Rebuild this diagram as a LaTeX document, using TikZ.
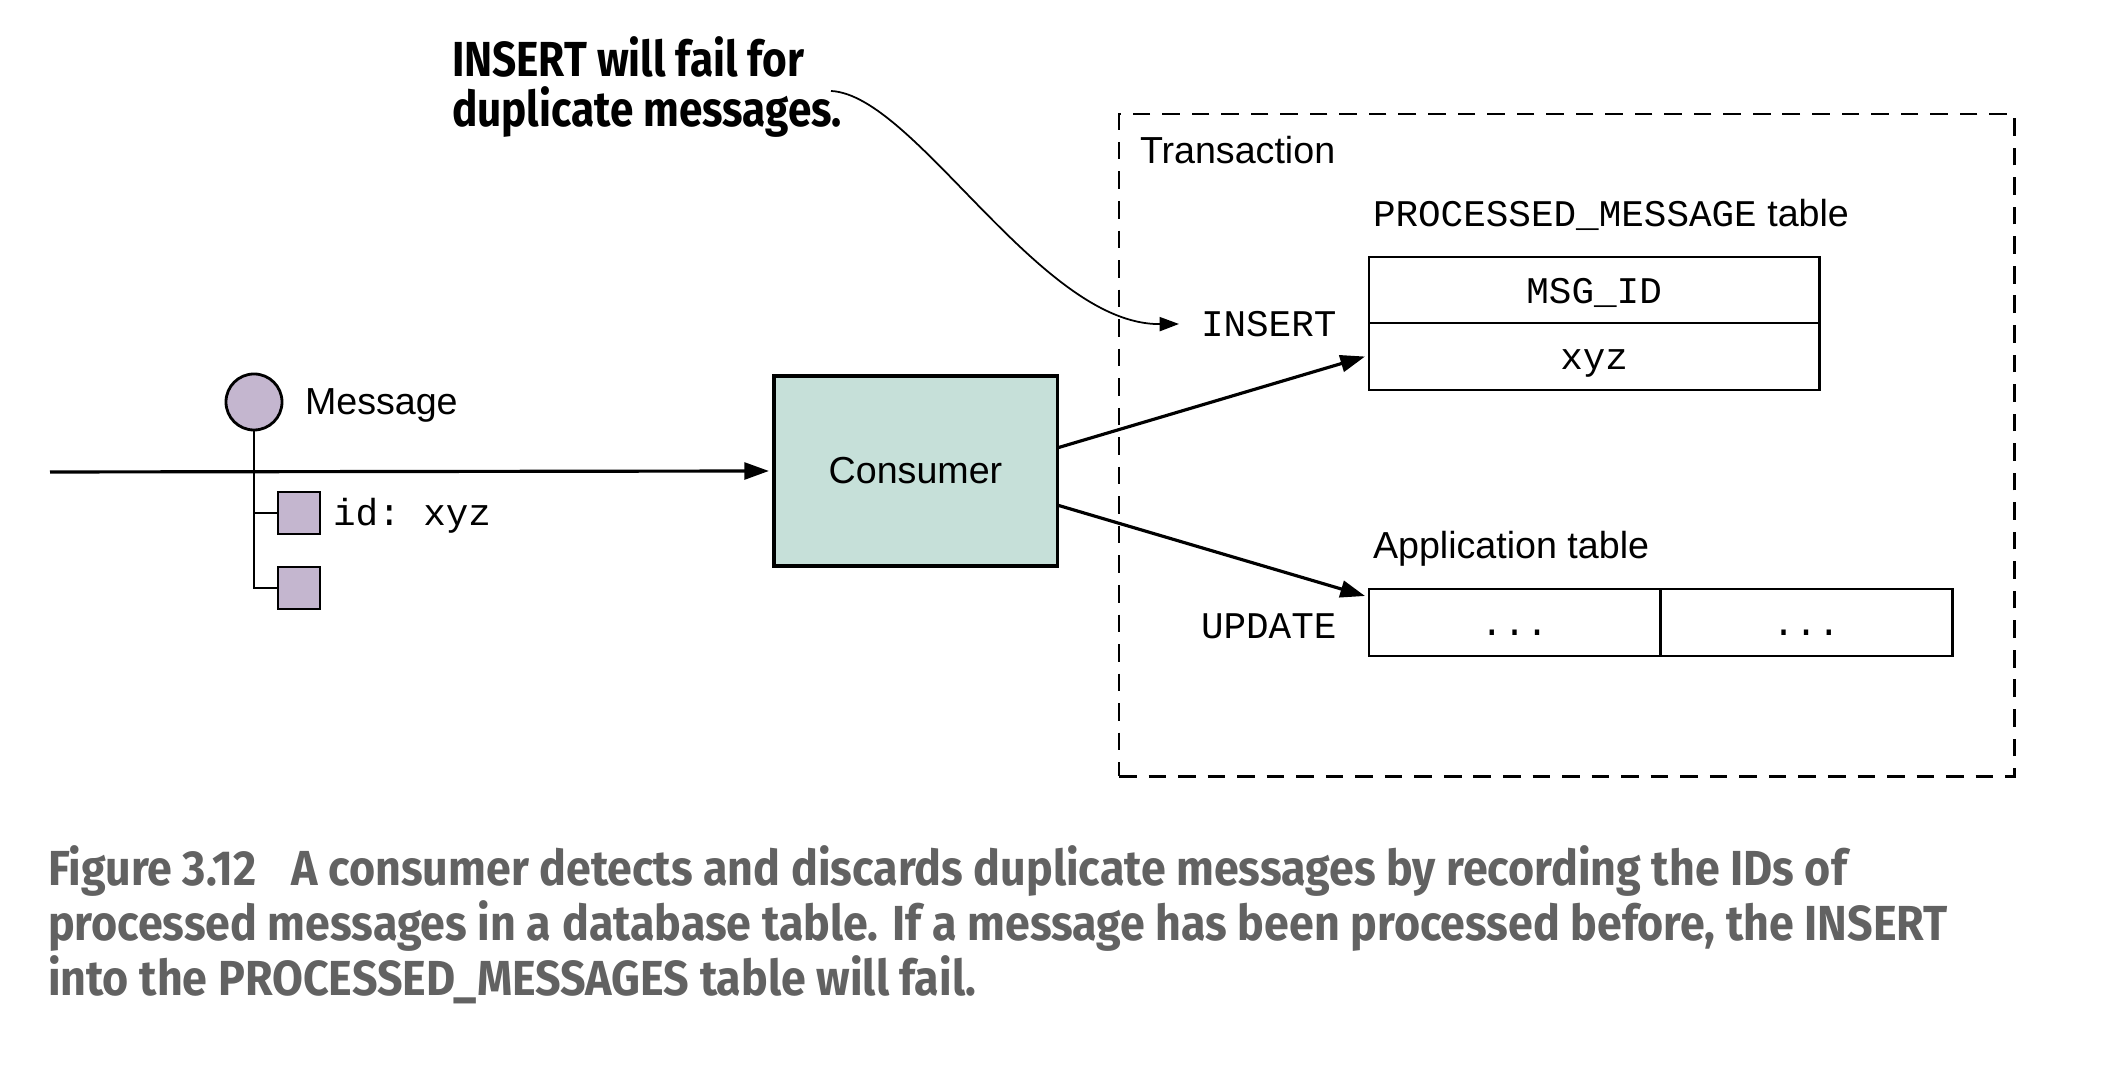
\documentclass[tikz,border=0pt]{standalone}
\usepackage{fontspec}
\setmainfont{Liberation Sans}
\setmonofont{Liberation Mono}
\newfontfamily\titlefont[FakeStretch=0.86]{Fira Sans}
\newfontfamily\capfont[FakeStretch=0.91]{Fira Sans}
\usetikzlibrary{arrows.meta}
\definecolor{msgfill}{RGB}{196,182,207}
\definecolor{consfill}{RGB}{198,224,217}
\definecolor{capgray}{RGB}{98,98,98}
\newcommand\basesize{\fontsize{10.7}{12.8}\selectfont}
\newcommand\titlesize{\titlefont\bfseries\fontsize{14}{16}\selectfont}
\newcommand\capsize{\capfont\bfseries\fontsize{14}{16}\selectfont}
\begin{document}
\begin{tikzpicture}[x=0.01cm,y=-0.01cm,
  every node/.style={inner sep=0pt, outer sep=0pt, font=\basesize},
  cell/.style={draw, line width=0.8pt, minimum height=0.66cm, text height=0.9em, text depth=0.14em, font=\basesize\ttfamily},
  mono/.style={font=\basesize\ttfamily},
  arr/.style={line width=0.9pt, -{Triangle[length=7pt,width=4.8pt]}},
  part/.style={draw, line width=0.8pt, fill=msgfill},
  dashbox/.style={draw, line width=0.8pt, dash pattern=on 5pt off 3.4pt},
  captext/.style={anchor=base west, font=\capsize, text=capgray}]
\useasboundingbox (0,0) rectangle (2108,1068);

% title
\node[anchor=base west, font=\titlesize] (t1) at (452,77) {INSERT will fail for};
\node[anchor=base west, font=\titlesize] (t2) at (452,127) {duplicate messages.};

% transaction box
\node[dashbox, minimum width=8.95cm, minimum height=6.62cm, anchor=north west] (trans) at (1119,114) {};
\node[anchor=base west] (translab) at (1140,164) {Transaction};

% processed message table
\node[anchor=base west] (pmlab) at (1373,227) {{\ttfamily PROCESSED\_MESSAGE} table};
\node[cell, minimum width=4.5cm, anchor=north west] (pm1) at (1369,257) {MSG\_ID};
\node[cell, minimum width=4.5cm, minimum height=0.67cm, anchor=north west] (pm2) at (pm1.south west) {xyz};

% application table
\node[anchor=base west] (atlab) at (1373,559) {Application table};
\node[cell, minimum width=2.91cm, minimum height=0.67cm, anchor=north west] (at1) at (1369,589) {...};
\node[cell, minimum width=2.92cm, minimum height=0.67cm, anchor=north west] (at2) at (at1.north east) {...};

\node[mono, anchor=west] (ins) at (1201,324) {INSERT};
\node[mono, anchor=west] (upd) at (1201,626) {UPDATE};

% consumer
\node[draw, line width=0.9pt, fill=consfill, minimum width=2.83cm, minimum height=1.9cm] (cons) at (915.5,471) {Consumer};

% message
\node[circle, part, minimum size=0.56cm] (msg) at (254,402) {};
\node[anchor=west] (msglab) at (305,405) {Message};
\node[part, minimum size=0.42cm] (sq1) at (299,513) {};
\node[part, minimum size=0.42cm] (sq2) at (299,588) {};
\node[mono, anchor=west] (idlab) at (333,516) {id: xyz};
\draw[line width=0.8pt] (msg.south) |- (sq2.west);
\draw[line width=0.8pt] (msg.south |- sq1.west) -- (sq1.west);

% connectors
\coordinate (src) at (50,472);
\draw[arr] (src) -- ([xshift=-0.05cm]cons.west);
\draw[arr] ([yshift=0.23cm]cons.east) -- ([xshift=-0.04cm]pm2.west);
\draw[arr] ([yshift=-0.34cm]cons.east) -- ([xshift=-0.04cm,yshift=-0.07cm]at1.north west);

\coordinate (cs) at (831,91);
\draw[line width=0.5pt, -{Triangle[length=5.5pt,width=4pt]}] (cs) .. controls (915,95) and (1040,325) .. ([xshift=-0.22cm]ins.west);

% caption
\node[captext] (cap1) at (48,886) {Figure 3.12\hspace{0.35cm}A consumer detects and discards duplicate messages by recording the IDs of};
\node[captext] (cap2) at (48,941) {processed messages in a database table. If a message has been processed before, the INSERT};
\node[captext] (cap3) at (48,996) {into the PROCESSED\_MESSAGES table will fail.};
\end{tikzpicture}
\end{document}
